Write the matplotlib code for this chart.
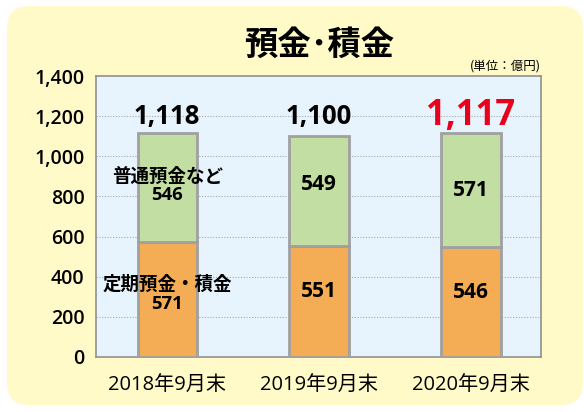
import matplotlib
matplotlib.use("Agg")
import matplotlib.pyplot as plt
from matplotlib.patches import FancyBboxPatch
from matplotlib.ticker import FuncFormatter

plt.rcParams['font.family'] = ['Open Sans', 'Noto Sans CJK JP', 'DejaVu Sans']
JP = ['Noto Sans CJK JP', 'DejaVu Sans']

categories = ['2018年9月末', '2019年9月末', '2020年9月末']
teiki = [571, 551, 546]      # 定期預金・積金
futsu = [546, 549, 571]      # 普通預金など
totals = [1118, 1100, 1117]
total_colors = ['black', 'black', '#E8001C']

fig = plt.figure(figsize=(5.84, 4.12), dpi=100)
fig.patch.set_facecolor('white')

# rounded cream panel behind everything
panel = FancyBboxPatch((7, 7), 576, 399, transform=None,
                       boxstyle="round,pad=0,rounding_size=22",
                       facecolor='#FFFAC8', edgecolor='none', zorder=-5)
fig.patches.append(panel)

ax = fig.add_axes([0.164, 0.134, 0.762, 0.681])
ax.set_zorder(1)
ax.set_facecolor('#E8F4FD')

x = list(range(len(categories)))
w = 0.39
ax.bar(x, teiki, width=w, color='#F4AD55', edgecolor='#A0A0A0', linewidth=2, zorder=3)
ax.bar(x, futsu, width=w, bottom=teiki, color='#C3DEA2', edgecolor='#A0A0A0', linewidth=2, zorder=3)

ax.set_xlim(-0.47, 2.46)
ax.set_ylim(0, 1400)
ax.set_yticks(range(0, 1401, 200))
ax.yaxis.set_major_formatter(FuncFormatter(lambda v, p: f'{int(v):,}'))
ax.set_xticks(x)
ax.set_xticklabels(categories, fontsize=14.5)
ax.tick_params(axis='y', labelsize=14, length=0, pad=8)
ax.tick_params(axis='x', length=0, pad=14)
for lab in ax.get_yticklabels():
    lab.set_fontweight('semibold')
for y in range(200, 1400, 200):
    ax.axhline(y, color='#A8A8A8', linestyle=(0, (1, 1.5)), linewidth=0.8, zorder=1)
for s in ax.spines.values():
    s.set_color('#909090')
    s.set_linewidth(1.2)

# small nudges for the labels in the green part
top_nudge = [8, 32, -4]
for i in range(len(categories)):
    bot_y = teiki[i] * 0.59
    top_y = teiki[i] + futsu[i] / 2 + top_nudge[i]
    if i == 0:
        ax.text(i, bot_y - 24, f'定期預金・積金\n{teiki[i]}', ha='center', va='center',
                fontsize=13.3, fontweight='bold', linespacing=1.05, zorder=4)
        ax.text(i, top_y, f'普通預金など\n{futsu[i]}', ha='center', va='center',
                fontsize=13.3, fontweight='bold', linespacing=1.05, zorder=4)
    else:
        ax.text(i, bot_y, f'{teiki[i]}', ha='center', va='center',
                fontsize=15, fontweight='bold', zorder=4)
        ax.text(i, top_y, f'{futsu[i]}', ha='center', va='center',
                fontsize=15, fontweight='bold', zorder=4)
    fs = 25 if i == 2 else 18.5
    ax.text(i, 1200, f'{totals[i]:,}', ha='center', va='center', fontsize=fs,
            fontweight='bold', color=total_colors[i], zorder=4)

fig.text(0.546, 0.89, '預金･積金', ha='center', va='center', fontsize=24,
         fontweight='bold', family=JP)
fig.text(0.926, 0.84, '(単位：億円)', ha='right', va='center', fontsize=9, family=JP)

fig.savefig('out.png', dpi=100)
